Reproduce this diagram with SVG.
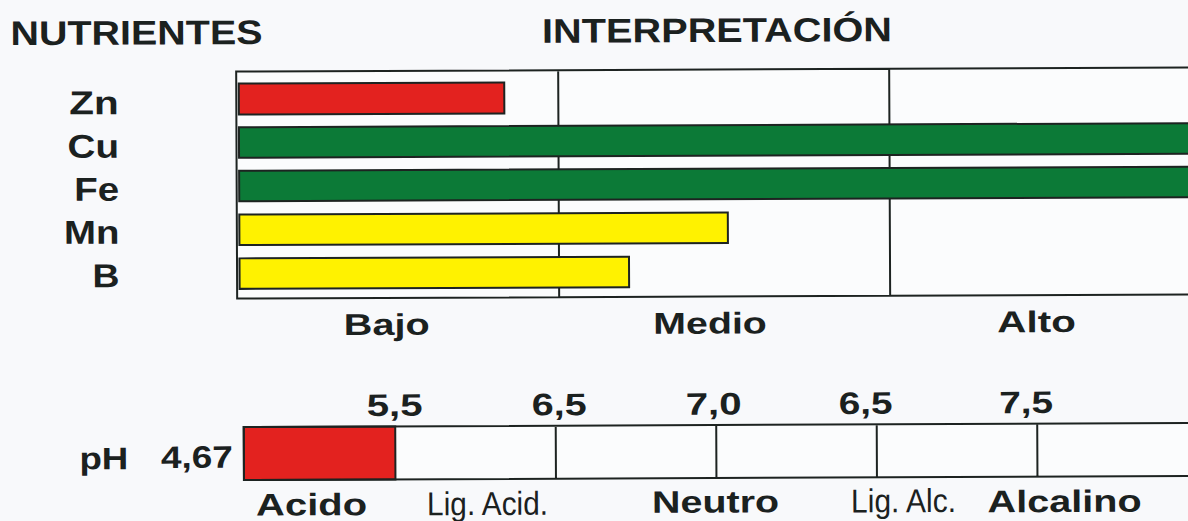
<svg xmlns="http://www.w3.org/2000/svg" width="1188" height="521" viewBox="0 0 1188 521">
  <style>
    .t { font-family: "Liberation Sans", Arial, sans-serif; font-weight: bold; fill: #1b211f; }
    .h { font-size: 34px; }
    .r { font-size: 33px; }
    .c { font-size: 30px; }
    .p { font-size: 31px; }
    .nw { font-weight: normal; font-size: 33px; }
    .ln { stroke: #1d2321; stroke-width: 2; fill: none; }
    .bar { stroke: #1d2321; stroke-width: 2; }
    .red { fill: #e3221f; }
    .green { fill: #0c7a37; }
    .yellow { fill: #fff200; }
  </style>
  <rect x="0" y="0" width="1188" height="521" fill="#f8f9fb"/>
  <g transform="rotate(-0.25 600 260)">
    <g id="titles">
      <text class="t h" x="11.5" y="42.5" textLength="252" lengthAdjust="spacingAndGlyphs">NUTRIENTES</text>
      <text class="t h" x="543" y="42.5" textLength="350" lengthAdjust="spacingAndGlyphs">INTERPRETACIÓN</text>
    </g>
    <g id="nutrient-chart">
      <rect x="237" y="70" width="970" height="227" fill="#fbfcfd"/>
      <path class="ln" d="M1200 70 H237 V297 H1200 M559 70 V297 M890 70 V297"/>
      <g id="Zn">
        <text class="t r" x="70" y="112" textLength="49.5" lengthAdjust="spacingAndGlyphs">Zn</text>
        <rect class="bar red" x="239.5" y="82" width="265.5" height="31"/>
      </g>
      <g id="Cu">
        <text class="t r" x="68" y="155.5" textLength="51.5" lengthAdjust="spacingAndGlyphs">Cu</text>
        <rect class="bar green" x="239.5" y="125.7" width="970" height="30.5"/>
      </g>
      <g id="Fe">
        <text class="t r" x="74.5" y="198.5" textLength="45" lengthAdjust="spacingAndGlyphs">Fe</text>
        <rect class="bar green" x="239.5" y="169.2" width="970" height="30.5"/>
      </g>
      <g id="Mn">
        <text class="t r" x="64" y="241.5" textLength="55.5" lengthAdjust="spacingAndGlyphs">Mn</text>
        <rect class="bar yellow" x="239.5" y="213" width="488.5" height="30.5"/>
      </g>
      <g id="B">
        <text class="t r" x="92.5" y="285" textLength="27" lengthAdjust="spacingAndGlyphs">B</text>
        <rect class="bar yellow" x="239.5" y="256.8" width="389.5" height="30.5"/>
      </g>
      <g id="levels">
        <text class="t c" x="343.5" y="334" textLength="86" lengthAdjust="spacingAndGlyphs">Bajo</text>
        <text class="t c" x="653" y="334" textLength="113.5" lengthAdjust="spacingAndGlyphs">Medio</text>
        <text class="t c" x="997" y="334" textLength="78.5" lengthAdjust="spacingAndGlyphs">Alto</text>
      </g>
    </g>
    <g id="ph-scale">
      <rect x="243" y="425.5" width="960" height="53" fill="#fbfcfd"/>
      <rect class="bar red" x="243" y="425.5" width="151.5" height="53"/>
      <path class="ln" d="M1200 425.5 H243 V478.5 H1200 M555 425.5 V478.5 M715.5 425.5 V478.5 M876 425.5 V478.5 M1036.5 425.5 V478.5"/>
      <text class="t p" x="78.5" y="467" textLength="49" lengthAdjust="spacingAndGlyphs">pH</text>
      <text class="t p" x="160" y="466" textLength="72" lengthAdjust="spacingAndGlyphs">4,67</text>
      <text class="t p" x="366" y="415" textLength="56" lengthAdjust="spacingAndGlyphs">5,5</text>
      <text class="t p" x="531" y="415" textLength="55" lengthAdjust="spacingAndGlyphs">6,5</text>
      <text class="t p" x="685" y="415" textLength="56" lengthAdjust="spacingAndGlyphs">7,0</text>
      <text class="t p" x="838" y="415" textLength="54" lengthAdjust="spacingAndGlyphs">6,5</text>
      <text class="t p" x="998.5" y="415" textLength="54" lengthAdjust="spacingAndGlyphs">7,5</text>
      <text class="t p" x="255" y="514" textLength="111" lengthAdjust="spacingAndGlyphs">Acido</text>
      <text class="t nw" x="426" y="514.5" textLength="121" lengthAdjust="spacingAndGlyphs">Lig. Acid.</text>
      <text class="t p" x="651" y="513" textLength="127" lengthAdjust="spacingAndGlyphs">Neutro</text>
      <text class="t nw" x="850" y="513.5" textLength="105" lengthAdjust="spacingAndGlyphs">Lig. Alc.</text>
      <text class="t p" x="986.5" y="514" textLength="154" lengthAdjust="spacingAndGlyphs">Alcalino</text>
    </g>
  </g>
</svg>
